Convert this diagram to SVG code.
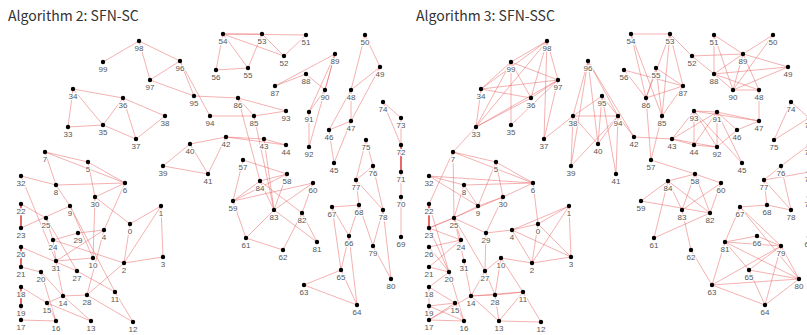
<svg xmlns="http://www.w3.org/2000/svg" width="807" height="335" viewBox="0 0 807 335">
<style>
.t{font-family:"Noto Sans CJK JP","Noto Sans",sans-serif;font-size:14px;fill:#333}
.e line{stroke:#e86060;stroke-opacity:.7;stroke-width:.7}
.e line.k{stroke:#e03030;stroke-opacity:.9;stroke-width:1.6}
.n circle{fill:#000}
.n text{font-family:"Liberation Sans",Arial,sans-serif;font-size:8px;fill:#555;text-anchor:middle;stroke:#fff;stroke-width:2.4;stroke-linejoin:round;paint-order:stroke}
</style>
<rect width="807" height="335" fill="#fff"/>
<text class="t" x="8" y="21">Algorithm 2: SFN-SC</text>
<text class="t" x="416" y="21">Algorithm 3: SFN-SSC</text>
<g id="sc">
<g id="sc-edges" class="e">
<line x1="139" y1="41" x2="103" y2="62"/><line x1="139" y1="41" x2="150" y2="80"/><line x1="139" y1="41" x2="180" y2="61"/><line x1="180" y1="61" x2="150" y2="80"/><line x1="150" y1="80" x2="194" y2="96"/><line x1="180" y1="61" x2="194" y2="96"/><line x1="180" y1="61" x2="210" y2="116"/><line x1="194" y1="96" x2="238" y2="98"/><line x1="210" y1="116" x2="254" y2="116"/><line x1="238" y1="98" x2="286" y2="111"/><line x1="254" y1="116" x2="286" y2="111"/><line x1="238" y1="98" x2="254" y2="116"/>
<line x1="73" y1="89" x2="123" y2="98"/><line x1="73" y1="89" x2="103" y2="125"/><line x1="73" y1="89" x2="68" y2="127"/><line x1="68" y1="127" x2="103" y2="125"/><line x1="103" y1="125" x2="123" y2="98"/><line x1="123" y1="98" x2="136" y2="139"/><line x1="103" y1="125" x2="136" y2="139"/><line x1="123" y1="98" x2="165" y2="116"/><line x1="136" y1="139" x2="165" y2="116"/>
<line x1="223" y1="34" x2="262" y2="34"/><line x1="223" y1="34" x2="306" y2="35"/><line x1="223" y1="34" x2="216" y2="70"/><line x1="223" y1="34" x2="248" y2="68"/><line x1="216" y1="70" x2="248" y2="68"/><line x1="262" y1="34" x2="248" y2="68"/><line x1="223" y1="34" x2="284" y2="56"/><line x1="262" y1="34" x2="284" y2="56"/><line x1="284" y1="56" x2="306" y2="35"/>
<line x1="275" y1="86" x2="335" y2="54"/><line x1="275" y1="86" x2="306" y2="74"/><line x1="306" y1="74" x2="325" y2="90"/><line x1="335" y1="54" x2="325" y2="90"/><line x1="335" y1="54" x2="309" y2="112"/><line x1="325" y1="90" x2="309" y2="112"/><line x1="309" y1="112" x2="309" y2="147"/><line x1="335" y1="54" x2="309" y2="147"/>
<line x1="365" y1="35" x2="380" y2="67"/><line x1="365" y1="35" x2="351" y2="90"/><line x1="380" y1="67" x2="351" y2="90"/><line x1="380" y1="67" x2="351" y2="121"/><line x1="351" y1="90" x2="351" y2="121"/><line x1="351" y1="90" x2="329" y2="130"/><line x1="329" y1="130" x2="351" y2="121"/><line x1="329" y1="130" x2="334" y2="163"/><line x1="351" y1="121" x2="334" y2="163"/>
<line x1="383" y1="102" x2="401" y2="118"/><line x1="383" y1="102" x2="401" y2="145"/><line x1="401" y1="118" x2="401" y2="145"/><line class="k" x1="401" y1="145" x2="401" y2="172"/><line x1="401" y1="172" x2="401" y2="197"/><line x1="401" y1="197" x2="401" y2="237"/>
<line x1="366" y1="140" x2="373" y2="166"/><line x1="366" y1="140" x2="356" y2="180"/><line x1="373" y1="166" x2="356" y2="180"/><line x1="373" y1="166" x2="383" y2="210"/><line x1="356" y1="180" x2="383" y2="210"/><line x1="356" y1="180" x2="359" y2="205"/><line x1="359" y1="205" x2="373" y2="246"/><line x1="383" y1="210" x2="373" y2="246"/><line x1="373" y1="246" x2="391" y2="279"/><line x1="383" y1="210" x2="391" y2="279"/>
<line x1="332" y1="207" x2="359" y2="205"/><line x1="332" y1="207" x2="349" y2="236"/><line x1="359" y1="205" x2="349" y2="236"/><line x1="332" y1="207" x2="341" y2="270"/><line x1="349" y1="236" x2="341" y2="270"/><line x1="349" y1="236" x2="357" y2="305"/><line x1="341" y1="270" x2="357" y2="305"/><line x1="341" y1="270" x2="304" y2="285"/><line x1="304" y1="285" x2="357" y2="305"/>
<line x1="226" y1="137" x2="264" y2="139"/><line x1="226" y1="137" x2="286" y2="145"/><line x1="264" y1="139" x2="286" y2="145"/><line x1="190" y1="144" x2="226" y2="137"/><line x1="190" y1="144" x2="163" y2="166"/><line x1="190" y1="144" x2="208" y2="174"/><line x1="226" y1="137" x2="208" y2="174"/><line x1="163" y1="166" x2="208" y2="174"/>
<line x1="238" y1="98" x2="260" y2="181"/><line x1="254" y1="116" x2="274" y2="210"/><line x1="264" y1="139" x2="274" y2="210"/><line x1="243" y1="160" x2="233" y2="201"/><line x1="243" y1="160" x2="287" y2="174"/><line x1="233" y1="201" x2="260" y2="181"/><line x1="233" y1="201" x2="287" y2="174"/><line x1="233" y1="201" x2="313" y2="183"/><line x1="233" y1="201" x2="246" y2="238"/><line x1="246" y1="238" x2="274" y2="210"/><line x1="246" y1="238" x2="283" y2="250"/><line x1="260" y1="181" x2="287" y2="174"/><line x1="260" y1="181" x2="302" y2="213"/><line x1="260" y1="181" x2="274" y2="210"/><line x1="287" y1="174" x2="274" y2="210"/><line x1="313" y1="183" x2="274" y2="210"/><line x1="313" y1="183" x2="302" y2="213"/><line x1="274" y1="210" x2="317" y2="242"/><line x1="302" y1="213" x2="317" y2="242"/><line x1="302" y1="213" x2="283" y2="250"/>
<line x1="45" y1="152" x2="88" y2="162"/><line x1="45" y1="152" x2="125" y2="183"/><line x1="45" y1="152" x2="56" y2="185"/><line x1="88" y1="162" x2="125" y2="183"/><line x1="88" y1="162" x2="95" y2="197"/><line x1="125" y1="183" x2="95" y2="197"/><line x1="125" y1="183" x2="104" y2="230"/><line x1="56" y1="185" x2="125" y2="183"/><line x1="21" y1="176" x2="56" y2="185"/><line x1="21" y1="176" x2="56" y2="261"/><line x1="21" y1="204" x2="46" y2="218"/><line class="k" x1="21" y1="204" x2="21" y2="228"/><line x1="21" y1="228" x2="70" y2="206"/><line x1="46" y1="218" x2="53" y2="240"/><line x1="46" y1="218" x2="77" y2="271"/><line x1="53" y1="240" x2="78" y2="233"/><line x1="78" y1="233" x2="104" y2="230"/><line x1="53" y1="240" x2="124" y2="263"/><line x1="21" y1="247" x2="77" y2="271"/><line class="k" x1="21" y1="247" x2="21" y2="267"/><line x1="21" y1="267" x2="41" y2="272"/><line x1="56" y1="261" x2="104" y2="230"/><line x1="56" y1="261" x2="93" y2="258"/><line x1="53" y1="240" x2="56" y2="261"/><line x1="56" y1="185" x2="70" y2="206"/><line x1="70" y1="206" x2="93" y2="258"/><line x1="70" y1="206" x2="115" y2="292"/><line x1="95" y1="197" x2="93" y2="258"/><line x1="95" y1="197" x2="130" y2="224"/><line x1="104" y1="230" x2="87" y2="295"/><line x1="130" y1="224" x2="124" y2="263"/><line x1="130" y1="224" x2="161" y2="206"/><line x1="161" y1="206" x2="163" y2="257"/><line x1="124" y1="263" x2="163" y2="257"/><line x1="161" y1="206" x2="124" y2="263"/><line x1="41" y1="272" x2="63" y2="296"/><line x1="41" y1="272" x2="56" y2="321"/><line x1="21" y1="287" x2="47" y2="303"/><line class="k" x1="21" y1="287" x2="21" y2="306"/><line x1="21" y1="306" x2="21" y2="320"/><line x1="21" y1="320" x2="56" y2="321"/><line x1="63" y1="296" x2="47" y2="303"/><line x1="63" y1="296" x2="87" y2="295"/><line x1="47" y1="303" x2="91" y2="321"/><line x1="87" y1="295" x2="133" y2="322"/><line x1="87" y1="295" x2="124" y2="263"/><line x1="115" y1="292" x2="133" y2="322"/><line x1="77" y1="271" x2="115" y2="292"/><line x1="63" y1="296" x2="91" y2="321"/><line x1="47" y1="303" x2="56" y2="321"/><line x1="63" y1="296" x2="56" y2="261"/>
</g>
<g id="sc-nodes" class="n">
<g id="sc-n0"><circle cx="130" cy="224" r="2.2"/><text x="130" y="234">0</text></g>
<g id="sc-n1"><circle cx="161" cy="206" r="2.2"/><text x="161" y="216">1</text></g>
<g id="sc-n2"><circle cx="124" cy="263" r="2.2"/><text x="124" y="273">2</text></g>
<g id="sc-n3"><circle cx="163" cy="257" r="2.2"/><text x="163" y="267">3</text></g>
<g id="sc-n4"><circle cx="104" cy="230" r="2.2"/><text x="104" y="240">4</text></g>
<g id="sc-n5"><circle cx="88" cy="162" r="2.2"/><text x="88" y="172">5</text></g>
<g id="sc-n6"><circle cx="125" cy="183" r="2.2"/><text x="125" y="193">6</text></g>
<g id="sc-n7"><circle cx="45" cy="152" r="2.2"/><text x="45" y="162">7</text></g>
<g id="sc-n8"><circle cx="56" cy="185" r="2.2"/><text x="56" y="195">8</text></g>
<g id="sc-n9"><circle cx="70" cy="206" r="2.2"/><text x="70" y="216">9</text></g>
<g id="sc-n10"><circle cx="93" cy="258" r="2.2"/><text x="93" y="268">10</text></g>
<g id="sc-n11"><circle cx="115" cy="292" r="2.2"/><text x="115" y="302">11</text></g>
<g id="sc-n12"><circle cx="133" cy="322" r="2.2"/><text x="133" y="332">12</text></g>
<g id="sc-n13"><circle cx="91" cy="321" r="2.2"/><text x="91" y="331">13</text></g>
<g id="sc-n14"><circle cx="63" cy="296" r="2.2"/><text x="63" y="306">14</text></g>
<g id="sc-n15"><circle cx="47" cy="303" r="2.2"/><text x="47" y="313">15</text></g>
<g id="sc-n16"><circle cx="56" cy="321" r="2.2"/><text x="56" y="331">16</text></g>
<g id="sc-n17"><circle cx="21" cy="320" r="2.2"/><text x="21" y="330">17</text></g>
<g id="sc-n18"><circle cx="21" cy="287" r="2.2"/><text x="21" y="297">18</text></g>
<g id="sc-n19"><circle cx="21" cy="306" r="2.2"/><text x="21" y="316">19</text></g>
<g id="sc-n20"><circle cx="41" cy="272" r="2.2"/><text x="41" y="282">20</text></g>
<g id="sc-n21"><circle cx="21" cy="267" r="2.2"/><text x="21" y="277">21</text></g>
<g id="sc-n22"><circle cx="21" cy="204" r="2.2"/><text x="21" y="214">22</text></g>
<g id="sc-n23"><circle cx="21" cy="228" r="2.2"/><text x="21" y="238">23</text></g>
<g id="sc-n24"><circle cx="53" cy="240" r="2.2"/><text x="53" y="250">24</text></g>
<g id="sc-n25"><circle cx="46" cy="218" r="2.2"/><text x="46" y="228">25</text></g>
<g id="sc-n26"><circle cx="21" cy="247" r="2.2"/><text x="21" y="257">26</text></g>
<g id="sc-n27"><circle cx="77" cy="271" r="2.2"/><text x="77" y="281">27</text></g>
<g id="sc-n28"><circle cx="87" cy="295" r="2.2"/><text x="87" y="305">28</text></g>
<g id="sc-n29"><circle cx="78" cy="233" r="2.2"/><text x="78" y="243">29</text></g>
<g id="sc-n30"><circle cx="95" cy="197" r="2.2"/><text x="95" y="207">30</text></g>
<g id="sc-n31"><circle cx="56" cy="261" r="2.2"/><text x="56" y="271">31</text></g>
<g id="sc-n32"><circle cx="21" cy="176" r="2.2"/><text x="21" y="186">32</text></g>
<g id="sc-n33"><circle cx="68" cy="127" r="2.2"/><text x="68" y="137">33</text></g>
<g id="sc-n34"><circle cx="73" cy="89" r="2.2"/><text x="73" y="99">34</text></g>
<g id="sc-n35"><circle cx="103" cy="125" r="2.2"/><text x="103" y="135">35</text></g>
<g id="sc-n36"><circle cx="123" cy="98" r="2.2"/><text x="123" y="108">36</text></g>
<g id="sc-n37"><circle cx="136" cy="139" r="2.2"/><text x="136" y="149">37</text></g>
<g id="sc-n38"><circle cx="165" cy="116" r="2.2"/><text x="165" y="126">38</text></g>
<g id="sc-n39"><circle cx="163" cy="166" r="2.2"/><text x="163" y="176">39</text></g>
<g id="sc-n40"><circle cx="190" cy="144" r="2.2"/><text x="190" y="154">40</text></g>
<g id="sc-n41"><circle cx="208" cy="174" r="2.2"/><text x="208" y="184">41</text></g>
<g id="sc-n42"><circle cx="226" cy="137" r="2.2"/><text x="226" y="147">42</text></g>
<g id="sc-n43"><circle cx="264" cy="139" r="2.2"/><text x="264" y="149">43</text></g>
<g id="sc-n44"><circle cx="286" cy="145" r="2.2"/><text x="286" y="155">44</text></g>
<g id="sc-n45"><circle cx="334" cy="163" r="2.2"/><text x="334" y="173">45</text></g>
<g id="sc-n46"><circle cx="329" cy="130" r="2.2"/><text x="329" y="140">46</text></g>
<g id="sc-n47"><circle cx="351" cy="121" r="2.2"/><text x="351" y="131">47</text></g>
<g id="sc-n48"><circle cx="351" cy="90" r="2.2"/><text x="351" y="100">48</text></g>
<g id="sc-n49"><circle cx="380" cy="67" r="2.2"/><text x="380" y="77">49</text></g>
<g id="sc-n50"><circle cx="365" cy="35" r="2.2"/><text x="365" y="45">50</text></g>
<g id="sc-n51"><circle cx="306" cy="35" r="2.2"/><text x="306" y="45">51</text></g>
<g id="sc-n52"><circle cx="284" cy="56" r="2.2"/><text x="284" y="66">52</text></g>
<g id="sc-n53"><circle cx="262" cy="34" r="2.2"/><text x="262" y="44">53</text></g>
<g id="sc-n54"><circle cx="223" cy="34" r="2.2"/><text x="223" y="44">54</text></g>
<g id="sc-n55"><circle cx="248" cy="68" r="2.2"/><text x="248" y="78">55</text></g>
<g id="sc-n56"><circle cx="216" cy="70" r="2.2"/><text x="216" y="80">56</text></g>
<g id="sc-n57"><circle cx="243" cy="160" r="2.2"/><text x="243" y="170">57</text></g>
<g id="sc-n58"><circle cx="287" cy="174" r="2.2"/><text x="287" y="184">58</text></g>
<g id="sc-n59"><circle cx="233" cy="201" r="2.2"/><text x="233" y="211">59</text></g>
<g id="sc-n60"><circle cx="313" cy="183" r="2.2"/><text x="313" y="193">60</text></g>
<g id="sc-n61"><circle cx="246" cy="238" r="2.2"/><text x="246" y="248">61</text></g>
<g id="sc-n62"><circle cx="283" cy="250" r="2.2"/><text x="283" y="260">62</text></g>
<g id="sc-n63"><circle cx="304" cy="285" r="2.2"/><text x="304" y="295">63</text></g>
<g id="sc-n64"><circle cx="357" cy="305" r="2.2"/><text x="357" y="315">64</text></g>
<g id="sc-n65"><circle cx="341" cy="270" r="2.2"/><text x="341" y="280">65</text></g>
<g id="sc-n66"><circle cx="349" cy="236" r="2.2"/><text x="349" y="246">66</text></g>
<g id="sc-n67"><circle cx="332" cy="207" r="2.2"/><text x="332" y="217">67</text></g>
<g id="sc-n68"><circle cx="359" cy="205" r="2.2"/><text x="359" y="215">68</text></g>
<g id="sc-n69"><circle cx="401" cy="237" r="2.2"/><text x="401" y="247">69</text></g>
<g id="sc-n70"><circle cx="401" cy="197" r="2.2"/><text x="401" y="207">70</text></g>
<g id="sc-n71"><circle cx="401" cy="172" r="2.2"/><text x="401" y="182">71</text></g>
<g id="sc-n72"><circle cx="401" cy="145" r="2.2"/><text x="401" y="155">72</text></g>
<g id="sc-n73"><circle cx="401" cy="118" r="2.2"/><text x="401" y="128">73</text></g>
<g id="sc-n74"><circle cx="383" cy="102" r="2.2"/><text x="383" y="112">74</text></g>
<g id="sc-n75"><circle cx="366" cy="140" r="2.2"/><text x="366" y="150">75</text></g>
<g id="sc-n76"><circle cx="373" cy="166" r="2.2"/><text x="373" y="176">76</text></g>
<g id="sc-n77"><circle cx="356" cy="180" r="2.2"/><text x="356" y="190">77</text></g>
<g id="sc-n78"><circle cx="383" cy="210" r="2.2"/><text x="383" y="220">78</text></g>
<g id="sc-n79"><circle cx="373" cy="246" r="2.2"/><text x="373" y="256">79</text></g>
<g id="sc-n80"><circle cx="391" cy="279" r="2.2"/><text x="391" y="289">80</text></g>
<g id="sc-n81"><circle cx="317" cy="242" r="2.2"/><text x="317" y="252">81</text></g>
<g id="sc-n82"><circle cx="302" cy="213" r="2.2"/><text x="302" y="223">82</text></g>
<g id="sc-n83"><circle cx="274" cy="210" r="2.2"/><text x="274" y="220">83</text></g>
<g id="sc-n84"><circle cx="260" cy="181" r="2.2"/><text x="260" y="191">84</text></g>
<g id="sc-n85"><circle cx="254" cy="116" r="2.2"/><text x="254" y="126">85</text></g>
<g id="sc-n86"><circle cx="238" cy="98" r="2.2"/><text x="238" y="108">86</text></g>
<g id="sc-n87"><circle cx="275" cy="86" r="2.2"/><text x="275" y="96">87</text></g>
<g id="sc-n88"><circle cx="306" cy="74" r="2.2"/><text x="306" y="84">88</text></g>
<g id="sc-n89"><circle cx="335" cy="54" r="2.2"/><text x="335" y="64">89</text></g>
<g id="sc-n90"><circle cx="325" cy="90" r="2.2"/><text x="325" y="100">90</text></g>
<g id="sc-n91"><circle cx="309" cy="112" r="2.2"/><text x="309" y="122">91</text></g>
<g id="sc-n92"><circle cx="309" cy="147" r="2.2"/><text x="309" y="157">92</text></g>
<g id="sc-n93"><circle cx="286" cy="111" r="2.2"/><text x="286" y="121">93</text></g>
<g id="sc-n94"><circle cx="210" cy="116" r="2.2"/><text x="210" y="126">94</text></g>
<g id="sc-n95"><circle cx="194" cy="96" r="2.2"/><text x="194" y="106">95</text></g>
<g id="sc-n96"><circle cx="180" cy="61" r="2.2"/><text x="180" y="71">96</text></g>
<g id="sc-n97"><circle cx="150" cy="80" r="2.2"/><text x="150" y="90">97</text></g>
<g id="sc-n98"><circle cx="139" cy="41" r="2.2"/><text x="139" y="51">98</text></g>
<g id="sc-n99"><circle cx="103" cy="62" r="2.2"/><text x="103" y="72">99</text></g>
</g>
</g>
<g id="ssc" transform="translate(408,0)">
<g id="ssc-edges" class="e">
<line x1="139" y1="41" x2="103" y2="62"/><line x1="139" y1="41" x2="73" y2="89"/><line x1="139" y1="41" x2="68" y2="127"/><line x1="139" y1="41" x2="123" y2="98"/><line x1="139" y1="41" x2="150" y2="80"/><line x1="139" y1="41" x2="136" y2="139"/><line x1="103" y1="62" x2="73" y2="89"/><line x1="103" y1="62" x2="68" y2="127"/><line x1="103" y1="62" x2="103" y2="125"/><line x1="103" y1="62" x2="123" y2="98"/><line x1="103" y1="62" x2="150" y2="80"/><line x1="73" y1="89" x2="68" y2="127"/><line x1="73" y1="89" x2="123" y2="98"/><line x1="73" y1="89" x2="150" y2="80"/><line x1="68" y1="127" x2="123" y2="98"/><line x1="68" y1="127" x2="150" y2="80"/><line x1="123" y1="98" x2="150" y2="80"/><line x1="103" y1="125" x2="150" y2="80"/><line x1="136" y1="139" x2="150" y2="80"/><line x1="136" y1="139" x2="165" y2="116"/><line x1="68" y1="127" x2="45" y2="152"/>
<line x1="180" y1="61" x2="165" y2="116"/><line x1="180" y1="61" x2="163" y2="166"/><line x1="180" y1="61" x2="190" y2="144"/><line x1="180" y1="61" x2="210" y2="116"/><line x1="180" y1="61" x2="226" y2="137"/><line x1="194" y1="96" x2="165" y2="116"/><line x1="194" y1="96" x2="208" y2="174"/><line x1="194" y1="96" x2="210" y2="116"/><line x1="194" y1="96" x2="190" y2="144"/><line x1="165" y1="116" x2="210" y2="116"/><line x1="165" y1="116" x2="163" y2="166"/><line x1="165" y1="116" x2="190" y2="144"/><line x1="210" y1="116" x2="190" y2="144"/><line x1="210" y1="116" x2="163" y2="166"/><line x1="210" y1="116" x2="208" y2="174"/><line x1="210" y1="116" x2="226" y2="137"/><line x1="226" y1="137" x2="264" y2="139"/>
<line x1="223" y1="34" x2="262" y2="34"/><line x1="223" y1="34" x2="238" y2="98"/><line x1="223" y1="34" x2="254" y2="116"/><line x1="262" y1="34" x2="238" y2="98"/><line x1="262" y1="34" x2="254" y2="116"/><line x1="262" y1="34" x2="275" y2="86"/><line x1="216" y1="70" x2="238" y2="98"/><line x1="216" y1="70" x2="275" y2="86"/><line x1="248" y1="68" x2="238" y2="98"/><line x1="248" y1="68" x2="254" y2="116"/><line x1="248" y1="68" x2="275" y2="86"/><line x1="238" y1="98" x2="275" y2="86"/><line x1="238" y1="98" x2="243" y2="160"/><line x1="254" y1="116" x2="243" y2="160"/><line x1="254" y1="116" x2="275" y2="86"/><line x1="243" y1="160" x2="287" y2="174"/>
<line x1="262" y1="34" x2="284" y2="56"/><line x1="284" y1="56" x2="306" y2="74"/><line x1="284" y1="56" x2="335" y2="54"/><line x1="306" y1="35" x2="335" y2="54"/><line x1="306" y1="35" x2="306" y2="74"/><line x1="306" y1="35" x2="325" y2="90"/><line x1="365" y1="35" x2="335" y2="54"/><line x1="365" y1="35" x2="325" y2="90"/><line x1="335" y1="54" x2="306" y2="74"/><line x1="335" y1="54" x2="325" y2="90"/><line x1="335" y1="54" x2="380" y2="67"/><line x1="335" y1="54" x2="351" y2="90"/><line x1="306" y1="74" x2="380" y2="67"/><line x1="306" y1="74" x2="325" y2="90"/><line x1="306" y1="74" x2="351" y2="90"/><line x1="325" y1="90" x2="351" y2="90"/><line x1="325" y1="90" x2="380" y2="67"/><line x1="351" y1="90" x2="351" y2="121"/>
<line x1="286" y1="111" x2="309" y2="112"/><line x1="286" y1="111" x2="351" y2="121"/><line x1="309" y1="112" x2="351" y2="121"/><line x1="286" y1="111" x2="264" y2="139"/><line x1="286" y1="111" x2="286" y2="145"/><line x1="286" y1="111" x2="309" y2="147"/><line x1="309" y1="112" x2="264" y2="139"/><line x1="309" y1="112" x2="286" y2="145"/><line x1="309" y1="112" x2="309" y2="147"/><line x1="309" y1="112" x2="334" y2="163"/><line x1="309" y1="112" x2="329" y2="130"/><line x1="264" y1="139" x2="286" y2="145"/><line x1="264" y1="139" x2="309" y2="147"/><line x1="286" y1="145" x2="309" y2="147"/><line x1="309" y1="147" x2="329" y2="130"/><line x1="329" y1="130" x2="351" y2="121"/><line x1="286" y1="111" x2="334" y2="163"/>
<line x1="383" y1="102" x2="401" y2="118"/><line x1="383" y1="102" x2="366" y2="140"/><line x1="366" y1="140" x2="401" y2="118"/><line x1="373" y1="166" x2="356" y2="180"/><line x1="373" y1="166" x2="383" y2="210"/><line x1="356" y1="180" x2="383" y2="210"/><line x1="356" y1="180" x2="359" y2="205"/><line x1="359" y1="205" x2="383" y2="210"/><line x1="332" y1="207" x2="359" y2="205"/><line x1="373" y1="166" x2="401" y2="145"/><line x1="356" y1="180" x2="401" y2="172"/>
<line x1="260" y1="181" x2="287" y2="174"/><line x1="260" y1="181" x2="233" y2="201"/><line x1="260" y1="181" x2="246" y2="238"/><line x1="260" y1="181" x2="274" y2="210"/><line x1="260" y1="181" x2="302" y2="213"/><line x1="287" y1="174" x2="274" y2="210"/><line x1="287" y1="174" x2="302" y2="213"/><line x1="287" y1="174" x2="313" y2="183"/><line x1="313" y1="183" x2="274" y2="210"/><line x1="313" y1="183" x2="302" y2="213"/><line x1="233" y1="201" x2="302" y2="213"/><line x1="246" y1="238" x2="302" y2="213"/><line x1="274" y1="210" x2="283" y2="250"/><line x1="283" y1="250" x2="304" y2="285"/>
<line x1="332" y1="207" x2="317" y2="242"/><line x1="332" y1="207" x2="373" y2="246"/><line x1="332" y1="207" x2="391" y2="279"/><line x1="317" y1="242" x2="349" y2="236"/><line x1="317" y1="242" x2="373" y2="246"/><line x1="317" y1="242" x2="341" y2="270"/><line x1="317" y1="242" x2="391" y2="279"/><line x1="317" y1="242" x2="304" y2="285"/><line x1="349" y1="236" x2="373" y2="246"/><line x1="341" y1="270" x2="373" y2="246"/><line x1="341" y1="270" x2="391" y2="279"/><line x1="304" y1="285" x2="391" y2="279"/><line x1="304" y1="285" x2="373" y2="246"/><line x1="304" y1="285" x2="357" y2="305"/><line x1="391" y1="279" x2="357" y2="305"/><line x1="341" y1="270" x2="357" y2="305"/><line x1="373" y1="246" x2="391" y2="279"/><line x1="373" y1="246" x2="357" y2="305"/>
<line x1="45" y1="152" x2="88" y2="162"/><line x1="45" y1="152" x2="125" y2="183"/><line x1="45" y1="152" x2="46" y2="218"/><line x1="45" y1="152" x2="21" y2="204"/><line x1="88" y1="162" x2="125" y2="183"/><line x1="88" y1="162" x2="95" y2="197"/><line x1="88" y1="162" x2="70" y2="206"/><line x1="21" y1="176" x2="56" y2="185"/><line x1="21" y1="176" x2="125" y2="183"/><line x1="21" y1="176" x2="70" y2="206"/><line x1="56" y1="185" x2="125" y2="183"/><line x1="56" y1="185" x2="70" y2="206"/><line x1="56" y1="185" x2="46" y2="218"/><line x1="95" y1="197" x2="125" y2="183"/><line x1="70" y1="206" x2="95" y2="197"/><line x1="70" y1="206" x2="46" y2="218"/><line x1="95" y1="197" x2="78" y2="233"/><line x1="125" y1="183" x2="130" y2="224"/><line class="k" x1="21" y1="204" x2="21" y2="228"/><line x1="21" y1="228" x2="46" y2="218"/><line x1="21" y1="228" x2="95" y2="197"/><line x1="46" y1="218" x2="53" y2="240"/><line x1="46" y1="218" x2="78" y2="233"/><line x1="46" y1="218" x2="77" y2="271"/><line x1="78" y1="233" x2="104" y2="230"/><line x1="104" y1="230" x2="130" y2="224"/><line x1="104" y1="230" x2="124" y2="263"/><line x1="130" y1="224" x2="124" y2="263"/><line x1="130" y1="224" x2="161" y2="206"/><line x1="130" y1="224" x2="163" y2="257"/><line x1="161" y1="206" x2="163" y2="257"/><line x1="104" y1="230" x2="163" y2="257"/><line x1="104" y1="230" x2="161" y2="206"/><line x1="124" y1="263" x2="163" y2="257"/><line x1="124" y1="263" x2="161" y2="206"/><line x1="21" y1="228" x2="53" y2="240"/><line x1="21" y1="228" x2="41" y2="272"/><line x1="21" y1="247" x2="53" y2="240"/><line x1="21" y1="247" x2="41" y2="272"/><line x1="21" y1="267" x2="41" y2="272"/><line x1="21" y1="267" x2="53" y2="240"/><line x1="21" y1="204" x2="41" y2="272"/><line x1="78" y1="233" x2="77" y2="271"/><line x1="56" y1="261" x2="63" y2="296"/><line x1="56" y1="261" x2="46" y2="218"/><line x1="93" y1="258" x2="77" y2="271"/><line x1="93" y1="258" x2="87" y2="295"/><line x1="93" y1="258" x2="124" y2="263"/><line x1="77" y1="271" x2="63" y2="296"/><line x1="77" y1="271" x2="87" y2="295"/><line x1="63" y1="296" x2="87" y2="295"/><line x1="63" y1="296" x2="115" y2="292"/><line x1="87" y1="295" x2="115" y2="292"/><line x1="87" y1="295" x2="91" y2="321"/><line x1="63" y1="296" x2="91" y2="321"/><line x1="115" y1="292" x2="91" y2="321"/><line x1="115" y1="292" x2="133" y2="322"/><line x1="93" y1="258" x2="115" y2="292"/><line x1="91" y1="321" x2="133" y2="322"/><line x1="21" y1="287" x2="41" y2="272"/><line x1="21" y1="287" x2="21" y2="306"/><line x1="21" y1="287" x2="47" y2="303"/><line x1="21" y1="306" x2="47" y2="303"/><line x1="21" y1="306" x2="21" y2="320"/><line x1="21" y1="306" x2="56" y2="321"/><line x1="21" y1="320" x2="56" y2="321"/><line x1="21" y1="320" x2="47" y2="303"/><line x1="21" y1="320" x2="63" y2="296"/><line x1="47" y1="303" x2="56" y2="321"/><line x1="41" y1="272" x2="56" y2="321"/>
</g>
<g id="ssc-nodes" class="n">
<g id="ssc-n0"><circle cx="130" cy="224" r="2.2"/><text x="130" y="234">0</text></g>
<g id="ssc-n1"><circle cx="161" cy="206" r="2.2"/><text x="161" y="216">1</text></g>
<g id="ssc-n2"><circle cx="124" cy="263" r="2.2"/><text x="124" y="273">2</text></g>
<g id="ssc-n3"><circle cx="163" cy="257" r="2.2"/><text x="163" y="267">3</text></g>
<g id="ssc-n4"><circle cx="104" cy="230" r="2.2"/><text x="104" y="240">4</text></g>
<g id="ssc-n5"><circle cx="88" cy="162" r="2.2"/><text x="88" y="172">5</text></g>
<g id="ssc-n6"><circle cx="125" cy="183" r="2.2"/><text x="125" y="193">6</text></g>
<g id="ssc-n7"><circle cx="45" cy="152" r="2.2"/><text x="45" y="162">7</text></g>
<g id="ssc-n8"><circle cx="56" cy="185" r="2.2"/><text x="56" y="195">8</text></g>
<g id="ssc-n9"><circle cx="70" cy="206" r="2.2"/><text x="70" y="216">9</text></g>
<g id="ssc-n10"><circle cx="93" cy="258" r="2.2"/><text x="93" y="268">10</text></g>
<g id="ssc-n11"><circle cx="115" cy="292" r="2.2"/><text x="115" y="302">11</text></g>
<g id="ssc-n12"><circle cx="133" cy="322" r="2.2"/><text x="133" y="332">12</text></g>
<g id="ssc-n13"><circle cx="91" cy="321" r="2.2"/><text x="91" y="331">13</text></g>
<g id="ssc-n14"><circle cx="63" cy="296" r="2.2"/><text x="63" y="306">14</text></g>
<g id="ssc-n15"><circle cx="47" cy="303" r="2.2"/><text x="47" y="313">15</text></g>
<g id="ssc-n16"><circle cx="56" cy="321" r="2.2"/><text x="56" y="331">16</text></g>
<g id="ssc-n17"><circle cx="21" cy="320" r="2.2"/><text x="21" y="330">17</text></g>
<g id="ssc-n18"><circle cx="21" cy="287" r="2.2"/><text x="21" y="297">18</text></g>
<g id="ssc-n19"><circle cx="21" cy="306" r="2.2"/><text x="21" y="316">19</text></g>
<g id="ssc-n20"><circle cx="41" cy="272" r="2.2"/><text x="41" y="282">20</text></g>
<g id="ssc-n21"><circle cx="21" cy="267" r="2.2"/><text x="21" y="277">21</text></g>
<g id="ssc-n22"><circle cx="21" cy="204" r="2.2"/><text x="21" y="214">22</text></g>
<g id="ssc-n23"><circle cx="21" cy="228" r="2.2"/><text x="21" y="238">23</text></g>
<g id="ssc-n24"><circle cx="53" cy="240" r="2.2"/><text x="53" y="250">24</text></g>
<g id="ssc-n25"><circle cx="46" cy="218" r="2.2"/><text x="46" y="228">25</text></g>
<g id="ssc-n26"><circle cx="21" cy="247" r="2.2"/><text x="21" y="257">26</text></g>
<g id="ssc-n27"><circle cx="77" cy="271" r="2.2"/><text x="77" y="281">27</text></g>
<g id="ssc-n28"><circle cx="87" cy="295" r="2.2"/><text x="87" y="305">28</text></g>
<g id="ssc-n29"><circle cx="78" cy="233" r="2.2"/><text x="78" y="243">29</text></g>
<g id="ssc-n30"><circle cx="95" cy="197" r="2.2"/><text x="95" y="207">30</text></g>
<g id="ssc-n31"><circle cx="56" cy="261" r="2.2"/><text x="56" y="271">31</text></g>
<g id="ssc-n32"><circle cx="21" cy="176" r="2.2"/><text x="21" y="186">32</text></g>
<g id="ssc-n33"><circle cx="68" cy="127" r="2.2"/><text x="68" y="137">33</text></g>
<g id="ssc-n34"><circle cx="73" cy="89" r="2.2"/><text x="73" y="99">34</text></g>
<g id="ssc-n35"><circle cx="103" cy="125" r="2.2"/><text x="103" y="135">35</text></g>
<g id="ssc-n36"><circle cx="123" cy="98" r="2.2"/><text x="123" y="108">36</text></g>
<g id="ssc-n37"><circle cx="136" cy="139" r="2.2"/><text x="136" y="149">37</text></g>
<g id="ssc-n38"><circle cx="165" cy="116" r="2.2"/><text x="165" y="126">38</text></g>
<g id="ssc-n39"><circle cx="163" cy="166" r="2.2"/><text x="163" y="176">39</text></g>
<g id="ssc-n40"><circle cx="190" cy="144" r="2.2"/><text x="190" y="154">40</text></g>
<g id="ssc-n41"><circle cx="208" cy="174" r="2.2"/><text x="208" y="184">41</text></g>
<g id="ssc-n42"><circle cx="226" cy="137" r="2.2"/><text x="226" y="147">42</text></g>
<g id="ssc-n43"><circle cx="264" cy="139" r="2.2"/><text x="264" y="149">43</text></g>
<g id="ssc-n44"><circle cx="286" cy="145" r="2.2"/><text x="286" y="155">44</text></g>
<g id="ssc-n45"><circle cx="334" cy="163" r="2.2"/><text x="334" y="173">45</text></g>
<g id="ssc-n46"><circle cx="329" cy="130" r="2.2"/><text x="329" y="140">46</text></g>
<g id="ssc-n47"><circle cx="351" cy="121" r="2.2"/><text x="351" y="131">47</text></g>
<g id="ssc-n48"><circle cx="351" cy="90" r="2.2"/><text x="351" y="100">48</text></g>
<g id="ssc-n49"><circle cx="380" cy="67" r="2.2"/><text x="380" y="77">49</text></g>
<g id="ssc-n50"><circle cx="365" cy="35" r="2.2"/><text x="365" y="45">50</text></g>
<g id="ssc-n51"><circle cx="306" cy="35" r="2.2"/><text x="306" y="45">51</text></g>
<g id="ssc-n52"><circle cx="284" cy="56" r="2.2"/><text x="284" y="66">52</text></g>
<g id="ssc-n53"><circle cx="262" cy="34" r="2.2"/><text x="262" y="44">53</text></g>
<g id="ssc-n54"><circle cx="223" cy="34" r="2.2"/><text x="223" y="44">54</text></g>
<g id="ssc-n55"><circle cx="248" cy="68" r="2.2"/><text x="248" y="78">55</text></g>
<g id="ssc-n56"><circle cx="216" cy="70" r="2.2"/><text x="216" y="80">56</text></g>
<g id="ssc-n57"><circle cx="243" cy="160" r="2.2"/><text x="243" y="170">57</text></g>
<g id="ssc-n58"><circle cx="287" cy="174" r="2.2"/><text x="287" y="184">58</text></g>
<g id="ssc-n59"><circle cx="233" cy="201" r="2.2"/><text x="233" y="211">59</text></g>
<g id="ssc-n60"><circle cx="313" cy="183" r="2.2"/><text x="313" y="193">60</text></g>
<g id="ssc-n61"><circle cx="246" cy="238" r="2.2"/><text x="246" y="248">61</text></g>
<g id="ssc-n62"><circle cx="283" cy="250" r="2.2"/><text x="283" y="260">62</text></g>
<g id="ssc-n63"><circle cx="304" cy="285" r="2.2"/><text x="304" y="295">63</text></g>
<g id="ssc-n64"><circle cx="357" cy="305" r="2.2"/><text x="357" y="315">64</text></g>
<g id="ssc-n65"><circle cx="341" cy="270" r="2.2"/><text x="341" y="280">65</text></g>
<g id="ssc-n66"><circle cx="349" cy="236" r="2.2"/><text x="349" y="246">66</text></g>
<g id="ssc-n67"><circle cx="332" cy="207" r="2.2"/><text x="332" y="217">67</text></g>
<g id="ssc-n68"><circle cx="359" cy="205" r="2.2"/><text x="359" y="215">68</text></g>
<g id="ssc-n69"><circle cx="401" cy="237" r="2.2"/><text x="401" y="247">69</text></g>
<g id="ssc-n70"><circle cx="401" cy="197" r="2.2"/><text x="401" y="207">70</text></g>
<g id="ssc-n71"><circle cx="401" cy="172" r="2.2"/><text x="401" y="182">71</text></g>
<g id="ssc-n72"><circle cx="401" cy="145" r="2.2"/><text x="401" y="155">72</text></g>
<g id="ssc-n73"><circle cx="401" cy="118" r="2.2"/><text x="401" y="128">73</text></g>
<g id="ssc-n74"><circle cx="383" cy="102" r="2.2"/><text x="383" y="112">74</text></g>
<g id="ssc-n75"><circle cx="366" cy="140" r="2.2"/><text x="366" y="150">75</text></g>
<g id="ssc-n76"><circle cx="373" cy="166" r="2.2"/><text x="373" y="176">76</text></g>
<g id="ssc-n77"><circle cx="356" cy="180" r="2.2"/><text x="356" y="190">77</text></g>
<g id="ssc-n78"><circle cx="383" cy="210" r="2.2"/><text x="383" y="220">78</text></g>
<g id="ssc-n79"><circle cx="373" cy="246" r="2.2"/><text x="373" y="256">79</text></g>
<g id="ssc-n80"><circle cx="391" cy="279" r="2.2"/><text x="391" y="289">80</text></g>
<g id="ssc-n81"><circle cx="317" cy="242" r="2.2"/><text x="317" y="252">81</text></g>
<g id="ssc-n82"><circle cx="302" cy="213" r="2.2"/><text x="302" y="223">82</text></g>
<g id="ssc-n83"><circle cx="274" cy="210" r="2.2"/><text x="274" y="220">83</text></g>
<g id="ssc-n84"><circle cx="260" cy="181" r="2.2"/><text x="260" y="191">84</text></g>
<g id="ssc-n85"><circle cx="254" cy="116" r="2.2"/><text x="254" y="126">85</text></g>
<g id="ssc-n86"><circle cx="238" cy="98" r="2.2"/><text x="238" y="108">86</text></g>
<g id="ssc-n87"><circle cx="275" cy="86" r="2.2"/><text x="275" y="96">87</text></g>
<g id="ssc-n88"><circle cx="306" cy="74" r="2.2"/><text x="306" y="84">88</text></g>
<g id="ssc-n89"><circle cx="335" cy="54" r="2.2"/><text x="335" y="64">89</text></g>
<g id="ssc-n90"><circle cx="325" cy="90" r="2.2"/><text x="325" y="100">90</text></g>
<g id="ssc-n91"><circle cx="309" cy="112" r="2.2"/><text x="309" y="122">91</text></g>
<g id="ssc-n92"><circle cx="309" cy="147" r="2.2"/><text x="309" y="157">92</text></g>
<g id="ssc-n93"><circle cx="286" cy="111" r="2.2"/><text x="286" y="121">93</text></g>
<g id="ssc-n94"><circle cx="210" cy="116" r="2.2"/><text x="210" y="126">94</text></g>
<g id="ssc-n95"><circle cx="194" cy="96" r="2.2"/><text x="194" y="106">95</text></g>
<g id="ssc-n96"><circle cx="180" cy="61" r="2.2"/><text x="180" y="71">96</text></g>
<g id="ssc-n97"><circle cx="150" cy="80" r="2.2"/><text x="150" y="90">97</text></g>
<g id="ssc-n98"><circle cx="139" cy="41" r="2.2"/><text x="139" y="51">98</text></g>
<g id="ssc-n99"><circle cx="103" cy="62" r="2.2"/><text x="103" y="72">99</text></g>
</g>
</g>
</svg>
